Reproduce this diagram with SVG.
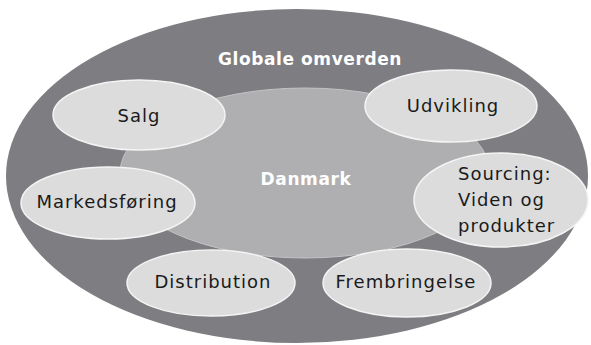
<svg xmlns="http://www.w3.org/2000/svg" width="591" height="345" viewBox="0 0 591 345">
<style>
.outer{fill:#7e7d81;}
.inner{fill:#afafb1;stroke:#c4c4c6;stroke-width:1;}
.node{fill:#dcdcdd;stroke:#f4f4f4;stroke-width:1.5;}
.lbl{font-family:"DejaVu Sans",sans-serif;font-size:18px;letter-spacing:1px;fill:#1a1a1a;text-anchor:middle;}
.wh{font-family:"DejaVu Sans",sans-serif;font-size:17px;font-weight:bold;letter-spacing:0.6px;fill:#ffffff;text-anchor:middle;}
</style>
<rect width="591" height="345" fill="#ffffff"/>
<g id="globale">
<ellipse class="outer" cx="297" cy="176" rx="291" ry="167"/>
<text class="wh" x="310" y="65">Globale omverden</text>
</g>
<g id="danmark">
<ellipse class="inner" cx="305" cy="173" rx="185" ry="85"/>
<text class="wh" x="306" y="185">Danmark</text>
</g>
<g id="connectors"></g>
<g id="salg">
<ellipse class="node" cx="139" cy="115" rx="86" ry="35"/>
<text class="lbl" x="139" y="122">Salg</text>
</g>
<g id="udvikling">
<ellipse class="node" cx="451" cy="106" rx="86" ry="36"/>
<text class="lbl" x="453" y="112">Udvikling</text>
</g>
<g id="markedsforing">
<ellipse class="node" cx="108" cy="203" rx="87" ry="36"/>
<text class="lbl" x="107" y="208">Markedsføring</text>
</g>
<g id="sourcing">
<ellipse class="node" cx="501" cy="200" rx="87" ry="47"/>
<text class="lbl" style="text-anchor:start" x="458" y="180">Sourcing:</text>
<text class="lbl" style="text-anchor:start" x="458" y="206">Viden og</text>
<text class="lbl" style="text-anchor:start" x="458" y="232">produkter</text>
</g>
<g id="distribution">
<ellipse class="node" cx="211" cy="283" rx="84" ry="33"/>
<text class="lbl" x="213" y="288">Distribution</text>
</g>
<g id="frembringelse">
<ellipse class="node" cx="407" cy="283" rx="84" ry="34"/>
<text class="lbl" x="406" y="288">Frembringelse</text>
</g>
</svg>
